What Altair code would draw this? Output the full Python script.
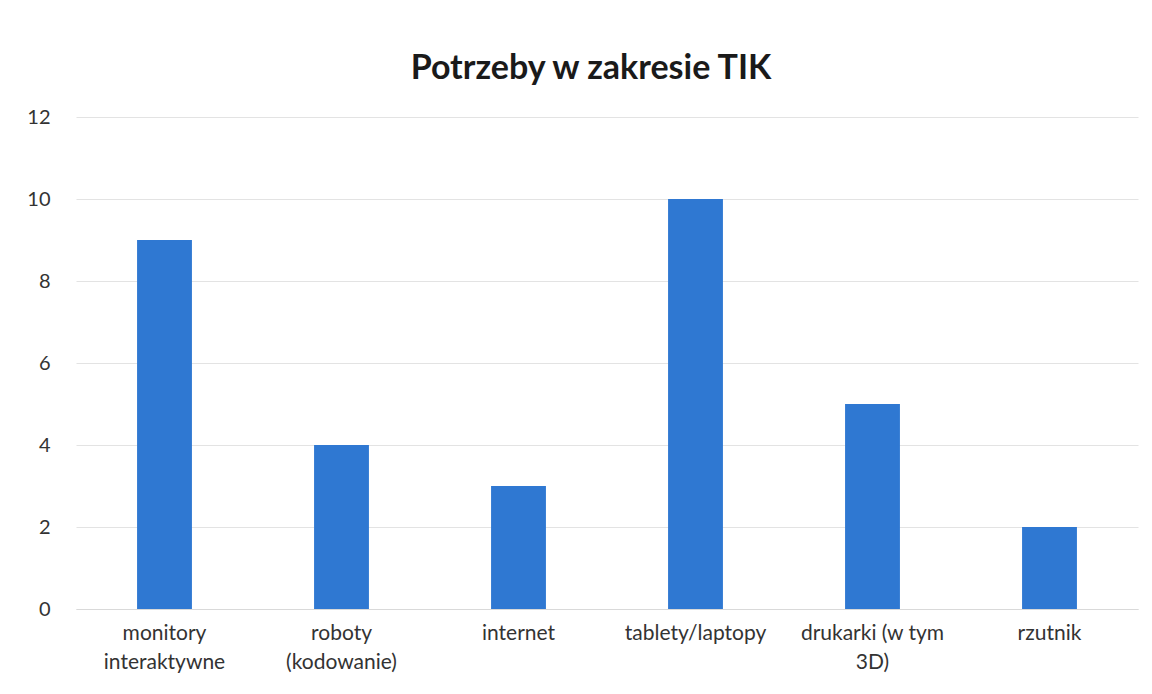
import altair as alt
import pandas as pd

categories = ["monitory\ninteraktywne", "roboty\n(kodowanie)", "internet",
              "tablety/laptopy", "drukarki (w tym\n3D)", "rzutnik"]
values = [9, 4, 3, 10, 5, 2]
title_text = "Potrzeby w zakresie TIK"

df = pd.DataFrame({"kategoria": categories, "wartosc": values})

FONT = "Lato"

chart = alt.Chart(df).mark_bar(color="#2F78D2").encode(
    x=alt.X("kategoria:N", sort=categories,
            scale=alt.Scale(paddingInner=0.69, paddingOuter=0.345),
            axis=alt.Axis(title=None, labelAngle=0, ticks=False,
                          labelExpr="split(datum.label, '\\n')",
                          labelFontSize=21, labelColor="#333333", labelFont=FONT,
                          labelPadding=13, labelLineHeight=29,
                          domainColor="#d9d9d9", domainWidth=1)),
    y=alt.Y("wartosc:Q", scale=alt.Scale(domain=[0, 12]),
            axis=alt.Axis(title=None, values=[0, 2, 4, 6, 8, 10, 12], ticks=False,
                          domain=False, labelFontSize=20, labelColor="#333333",
                          labelFont=FONT, labelPadding=26,
                          gridColor="#e3e3e3", gridWidth=1)),
).properties(
    width=1062, height=492,
    background="white",
    title=alt.TitleParams(title_text, fontSize=34, font=FONT, fontWeight="bold",
                          color="#1a1a1a", anchor="middle", offset=21, dx=-16),
    autosize=alt.AutoSizeParams(type="none"),
    padding={"left": 68, "top": 109, "right": 6, "bottom": 70},
).configure_view(strokeWidth=0, stroke="transparent")

chart.save("out.html", embed_options={"renderer": "svg", "actions": False})
